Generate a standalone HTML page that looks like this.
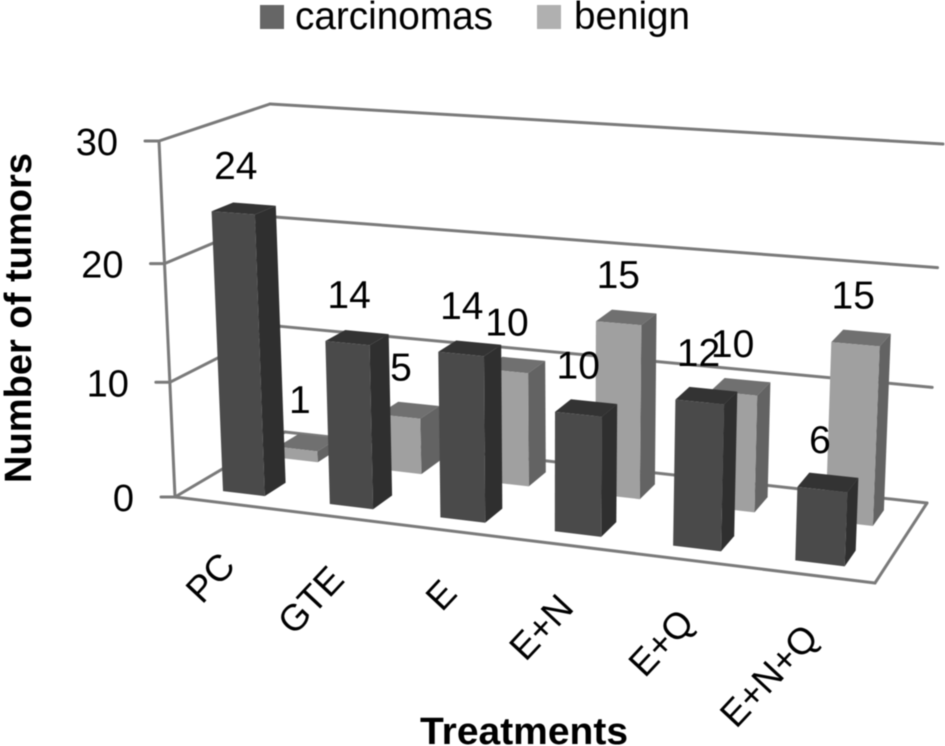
<!DOCTYPE html>
<html>
<head>
<meta charset="utf-8">
<title>Number of tumors by treatment</title>
<style>
html,body{margin:0;padding:0;background:#fff;}
svg{display:block;font-family:"Liberation Sans",sans-serif;filter:blur(0.4px);}
</style>
</head>
<body>
<svg id="chart" width="945" height="746" viewBox="0 0 945 746" xmlns="http://www.w3.org/2000/svg">
<rect width="945" height="746" fill="#ffffff"/>
<g>
<rect x="260" y="5" width="24" height="24" fill="#666666"/>
<text x="295" y="29" font-size="39" textLength="198" lengthAdjust="spacingAndGlyphs" fill="#000">carcinomas</text>
<rect x="537" y="5" width="24" height="24" fill="#b0b0b0"/>
<text x="574" y="29" font-size="39" textLength="116" lengthAdjust="spacingAndGlyphs" fill="#000">benign</text>
</g>
<text transform="translate(31,483) rotate(-90)" font-size="38" font-weight="bold" textLength="330" lengthAdjust="spacingAndGlyphs" fill="#000">Number of tumors</text>
<text x="420" y="744" font-size="38" font-weight="bold" textLength="208" lengthAdjust="spacingAndGlyphs" fill="#000">Treatments</text>
</svg>
<script>
const categories = ["PC", "GTE", "E", "E+N", "E+Q", "E+N+Q"];
const carcinomas = [24, 14, 14, 10, 12, 6];
const benign = [1, 5, 10, 15, 10, 15];
const yTicks = [0, 10, 20, 30];

const NS = "http://www.w3.org/2000/svg";
const svg = document.getElementById("chart");
const yMax = 30;
const F0 = [175, 497], F1 = [159, 141], B0 = [285, 432], B1 = [270, 104];
const R0 = [875, 583], R1 = [890, 191], S0 = [927, 503], S1 = [943, 144];

function lerp(a, b, t) { return a + (b - a) * t; }
function warpX(t) { return t + 0.1 * t * (t - 1); }
function warpV(v) { return v - 0.05 * v * (1 - v); }
// t: 0..1 across categories, d: 0..1 depth, value in axis units
function project(t, d, value) {
  const u = warpX(t), v = warpV(value / yMax);
  const out = [];
  for (let k = 0; k < 2; k++) {
    const fl = lerp(F0[k], F1[k], v), bl = lerp(B0[k], B1[k], v);
    const fr = lerp(R0[k], R1[k], v), br = lerp(S0[k], S1[k], v);
    out.push(lerp(lerp(fl, bl, d), lerp(fr, br, d), u));
  }
  return out;
}
function pts(list) { return list.map(function (p) { return p[0].toFixed(1) + "," + p[1].toFixed(1); }).join(" "); }
function make(tag, parent) { const el = document.createElementNS(NS, tag); parent.appendChild(el); return el; }
function line(parent, a, b) {
  const el = make("line", parent);
  el.setAttribute("x1", a[0]); el.setAttribute("y1", a[1]);
  el.setAttribute("x2", b[0]); el.setAttribute("y2", b[1]);
  el.setAttribute("stroke", "#7a7a7a");
  el.setAttribute("stroke-width", "3");
  el.setAttribute("stroke-linecap", "round");
  return el;
}

// Walls, floor and ticks
const grid = make("g", svg);


yTicks.forEach(function (tick) {
  const front = project(0, 0, tick), back = project(0, 1, tick), right = project(1, 1, tick);
  const wall = line(grid, [front[0], front[1]], [back[0], back[1]]);
  
  
  const rear = line(grid, [back[0], back[1]], [right[0], right[1]]);
  
  
  const mark = line(grid, [front[0] - 14, front[1]], [front[0], front[1]]);
  
  
  const label = make("text", svg);
  
  
  label.setAttribute("x", front[0] - 41);
  label.setAttribute("y", front[1] + 14);
  label.setAttribute("text-anchor", "end");
  label.setAttribute("font-size", "38");
  label.textContent = String(tick);
});
const axisLine = line(grid, project(0, 0, 0), project(0, 0, yMax));


const floorFront = line(grid, project(0, 0, 0), project(1, 0, 0));


const floorRight = line(grid, project(1, 0, 0), project(1, 1, 0));



// Bars
const halfWidth = 0.033;
function drawBar(i, value, d0, d1, colors, seriesName) {
  const tc = (i + 0.5) / categories.length;
  const t0 = tc - halfWidth, t1 = tc + halfWidth;
  const g = make("g", svg);
  
  
  const top = make("polygon", g);
  
  
  top.setAttribute("points", pts([project(t0, d0, value), project(t1, d0, value), project(t1, d1, value), project(t0, d1, value)]));
  top.setAttribute("fill", colors[2]);
  const side = make("polygon", g);
  
  
  side.setAttribute("points", pts([project(t1, d0, 0), project(t1, d1, 0), project(t1, d1, value), project(t1, d0, value)]));
  side.setAttribute("fill", colors[1]);
  const front = make("polygon", g);
  
  
  front.setAttribute("points", pts([project(t0, d0, 0), project(t1, d0, 0), project(t1, d0, value), project(t0, d0, value)]));
  front.setAttribute("fill", colors[0]);
}
function drawValue(i, value, dm, seriesName) {
  const p = project((i + 0.5) / categories.length, dm, value);
  const label = make("text", svg);
  
  
  label.setAttribute("x", (p[0] - 8).toFixed(1));
  label.setAttribute("y", (p[1] - 29.5).toFixed(1));
  label.setAttribute("text-anchor", "middle");
  label.setAttribute("font-size", "39");
  label.textContent = String(value);
}
categories.forEach(function (name, i) {
  drawBar(i, benign[i], 0.66, 0.86, ["#a0a0a0", "#636363", "#707070"], "benign");
  drawBar(i, carcinomas[i], 0.15, 0.35, ["#4a4a4a", "#2f2f2f", "#333333"], "carcinomas");
});
categories.forEach(function (name, i) {
  drawValue(i, benign[i], 0.76, "benign");
  drawValue(i, carcinomas[i], 0.25, "carcinomas");
});

// Category labels
categories.forEach(function (name, i) {
  const p = project((i + 0.5) / categories.length, 0, 0);
  const label = make("text", svg);
  
  
  label.setAttribute("text-anchor", "end");
  label.setAttribute("font-size", "37");
  label.setAttribute("transform", "translate(" + (p[0] + 9).toFixed(1) + "," + (p[1] + 64).toFixed(1) + ") rotate(-47)");
  label.textContent = name;
});
</script>
</body>
</html>
